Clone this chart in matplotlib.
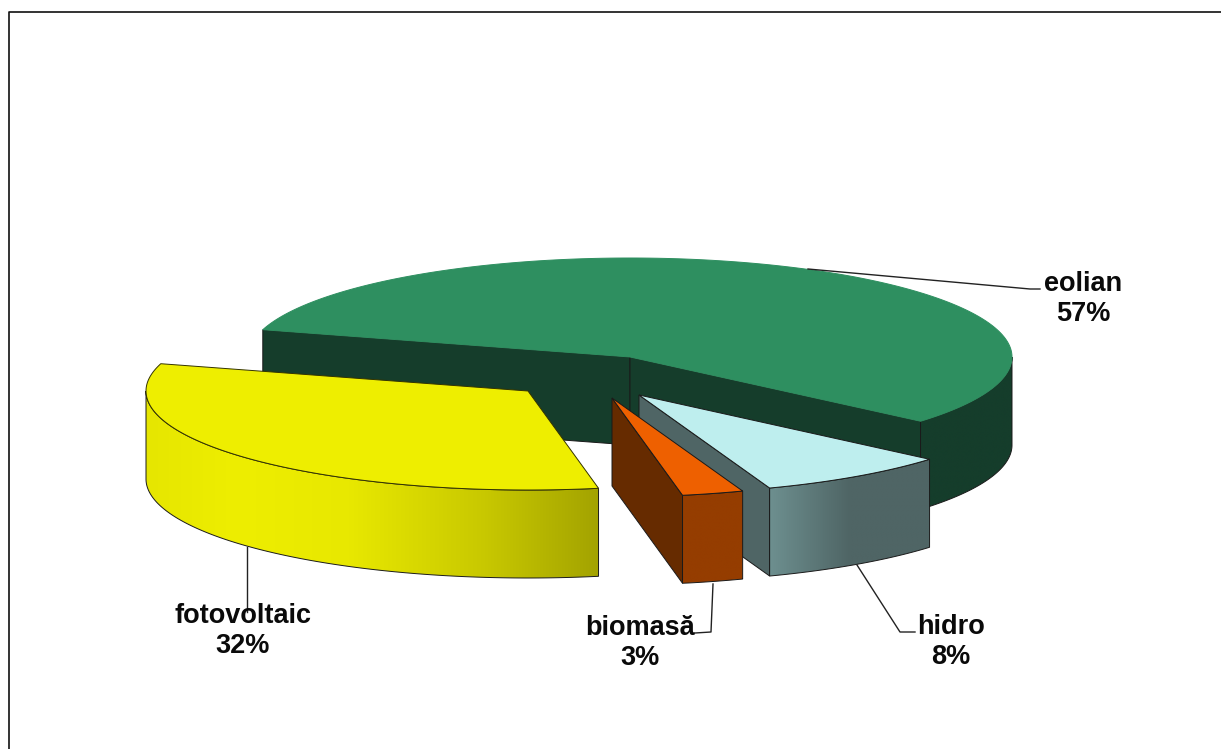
import numpy as np
import matplotlib
matplotlib.use("Agg")
import matplotlib.pyplot as plt
from matplotlib.colors import LinearSegmentedColormap
from matplotlib.patches import Polygon

# data
names = ["eolian", "hidro", "biomasă", "fotovoltaic"]
values = [56.8, 8.2, 2.6, 32.4]

# styles for each slice
top_colors = ["#2E8F60", "#BEEEEE", "#EE6000", "#EEEE00"]
face_colors = ["#153D2B", "#4F6565", "#662B00", "#EEEE00"]
top_edges = ["#2E8F60", "#1A1A1A", "#1A1A1A", "#333300"]
side_stops = [
    [(0, "#153D2B"), (1, "#153D2B")],
    [(0, "#6D8F8F"), (0.5, "#4F6565"), (1, "#4F6565")],
    [(0, "#953D00"), (1, "#953D00")],
    [(0, "#E6E600"), (0.2, "#EEEE00"), (0.45, "#E8E800"), (0.75, "#C8C800"), (1, "#A3A300")],
]
# exploded slice centres, in picture pixels
centres = [(630, 357), (639, 395), (612, 398), (528, 391)]
label_pos = [(1083, 299), (951, 642), (640, 643), (243, 631)]
leaders = [
    [(808, 269), (1030, 289), (1040, 289)],
    [(857, 565), (900, 632), (915, 632)],
    [(713, 584), (711, 632), (695, 633)],
    [(247, 547), (247, 612)],
]

RX = 382
RY = 99
DEPTH = 88
START = 164
EDGE = "#1A1A1A"


def arc(c, a1, a2):
    t = np.radians(np.linspace(a1, a2, 200))
    return np.column_stack([c[0] + RX * np.cos(t), c[1] - RY * np.sin(t)])


def drop(pts):
    return pts + np.array([0, DEPTH])


def drawFace(ax, pts, color, z, edge=EDGE):
    ax.add_patch(Polygon(pts, closed=True, facecolor=color, edgecolor=edge, linewidth=0.7, zorder=z))


def drawSide(ax, c, a1, a2, stops, z):
    # outer wall, only the part that faces the viewer
    a1 = min(a1, 0)
    a2 = max(a2, -180)
    top = arc(c, a1, a2)
    pts = np.vstack([top, drop(top)[::-1]])
    poly = Polygon(pts, closed=True, facecolor="none", edgecolor=EDGE, linewidth=0.7, zorder=z + 0.1)
    ax.add_patch(poly)
    cmap = LinearSegmentedColormap.from_list("side", stops)
    x0, x1 = pts[:, 0].min(), pts[:, 0].max()
    y0, y1 = pts[:, 1].min(), pts[:, 1].max()
    im = ax.imshow(np.linspace(0, 1, 256).reshape(1, -1), cmap=cmap, extent=(x0, x1, y1, y0),
                   aspect="auto", zorder=z, interpolation="bilinear")
    im.set_clip_path(poly)


fig = plt.figure(figsize=(12.21, 7.49), dpi=100)
ax = fig.add_axes([0, 0, 1, 1])

# slice angles go clockwise from START
spans = np.array(values) / sum(values) * 360
ends = START - np.cumsum(spans)
starts = ends + spans

# back to front: eolian, hidro, biomasa, fotovoltaic
for i in range(len(names)):
    c = np.array(centres[i], dtype=float)
    a1, a2 = starts[i], ends[i]
    z = 2 + i
    top = arc(c, a1, a2)

    # cut faces seen from the front
    if i == 0:
        for p in [top[0], top[-1]]:
            quad = np.array([p, c, drop(c), drop(p)])
            drawFace(ax, quad, face_colors[i], z)
    elif i < 3:
        # the wall on the left side of the wedge
        quad = np.array([c, top[-1], drop(top[-1]), drop(c)])
        drawFace(ax, quad, face_colors[i], z)

    drawSide(ax, c, a1, a2, side_stops[i], z)
    drawFace(ax, np.vstack([c, top]), top_colors[i], z + 0.2, top_edges[i])

# leader lines and labels
for i in range(len(names)):
    pts = np.array(leaders[i])
    ax.plot(pts[:, 0], pts[:, 1], color="#222222", linewidth=1, zorder=10)
    ax.text(label_pos[i][0], label_pos[i][1], f"{names[i]}\n{values[i]:.0f}%", ha="center", va="center",
            family="Liberation Sans", fontweight="bold", fontsize=19.5, color="#0A0A0A",
            linespacing=1.22, zorder=11)

# chart frame, only top and left are in the picture
ax.plot([9, 9, 1221], [749, 12, 12], color="#111111", linewidth=1.2, zorder=1)

ax.set_xlim(0, 1221)
ax.set_ylim(749, 0)
ax.axis("off")
fig.savefig("out.png", dpi=100)
